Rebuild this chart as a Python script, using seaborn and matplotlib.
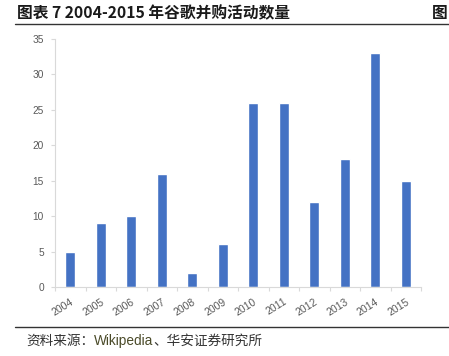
import matplotlib
matplotlib.use("Agg")
import matplotlib.pyplot as plt
import seaborn as sns
import pandas as pd
from matplotlib.lines import Line2D

years = ["2004", "2005", "2006", "2007", "2008", "2009", "2010", "2011", "2012", "2013", "2014", "2015"]
deals = [5, 9, 10, 16, 2, 6, 26, 26, 12, 18, 33, 15]
yticks = [0, 5, 10, 15, 20, 25, 30, 35]

sns.set_theme(style="white")
plt.rcParams['font.family'] = ['Noto Sans CJK SC', 'DejaVu Sans']

W, H = 449, 356
fig = plt.figure(figsize=(W / 100, H / 100), dpi=100)
ax = fig.add_axes([55 / W, (H - 287) / H, (421 - 55) / W, (287 - 39) / H])

df = pd.DataFrame({"year": years, "deals": deals})
sns.barplot(data=df, x="year", y="deals", color="#4472C4", width=0.33, saturation=1, ax=ax)

ax.set_ylim(0, 35)
ax.set_xlim(-0.5, len(years) - 0.5)
ax.set_yticks(yticks)
ax.set_yticklabels([str(v) for v in yticks], fontsize=7.3, color="#595959", family=['Liberation Sans', 'DejaVu Sans'])
ax.set_xticks(range(len(years)))
ax.set_xticklabels(years, rotation=32, ha="right", rotation_mode="anchor", fontsize=7.5, color="#595959", family=['Liberation Sans', 'DejaVu Sans'])
ax.set_xlabel("")
ax.set_ylabel("")
ax.tick_params(axis="x", which="major", length=0, pad=7)
ax.set_xticks([i - 0.5 for i in range(len(years) + 1)], minor=True)
ax.tick_params(axis="x", which="minor", length=3, color="#D9D9D9", width=0.8, direction="out", bottom=True)
ax.tick_params(axis="y", length=3, color="#D9D9D9", width=0.8, direction="out", left=True, pad=5)
for s in ["top", "right"]:
    ax.spines[s].set_visible(False)
for s in ["left", "bottom"]:
    ax.spines[s].set_color("#D9D9D9")
    ax.spines[s].set_linewidth(0.8)
ax.grid(False)

fig.text(17 / W, 1 - 13 / H, "图表 7 2004-2015 年谷歌并购活动数量", fontsize=11.3, fontweight="bold",
         va="center", ha="left", color="#1a1a1a")
fig.text(432 / W, 1 - 13 / H, "图", fontsize=11.3, fontweight="bold", va="center", ha="left", color="#1a1a1a")
fig.add_artist(Line2D([15 / W, 1], [1 - 24 / H, 1 - 24 / H], color="#333333", lw=1.0))
fig.add_artist(Line2D([15 / W, 1], [1 - 327 / H, 1 - 327 / H], color="#333333", lw=1.0))

x0 = 26 / W
y0 = 1 - 341 / H
t1 = fig.text(x0, y0, "资料来源：", fontsize=9.8, va="center", ha="left", color="#333333")
fig.canvas.draw()
bb = t1.get_window_extent()
t2 = fig.text(bb.x1 / W, y0, "Wikipedia", fontsize=9.8, va="center", ha="left", color="#4a4a28",
              family=['Liberation Sans', 'DejaVu Sans'])
fig.canvas.draw()
bb2 = t2.get_window_extent()
fig.text(bb2.x1 / W, y0, "、华安证券研究所", fontsize=9.8, va="center", ha="left", color="#333333")

fig.savefig("out.png", dpi=100)
